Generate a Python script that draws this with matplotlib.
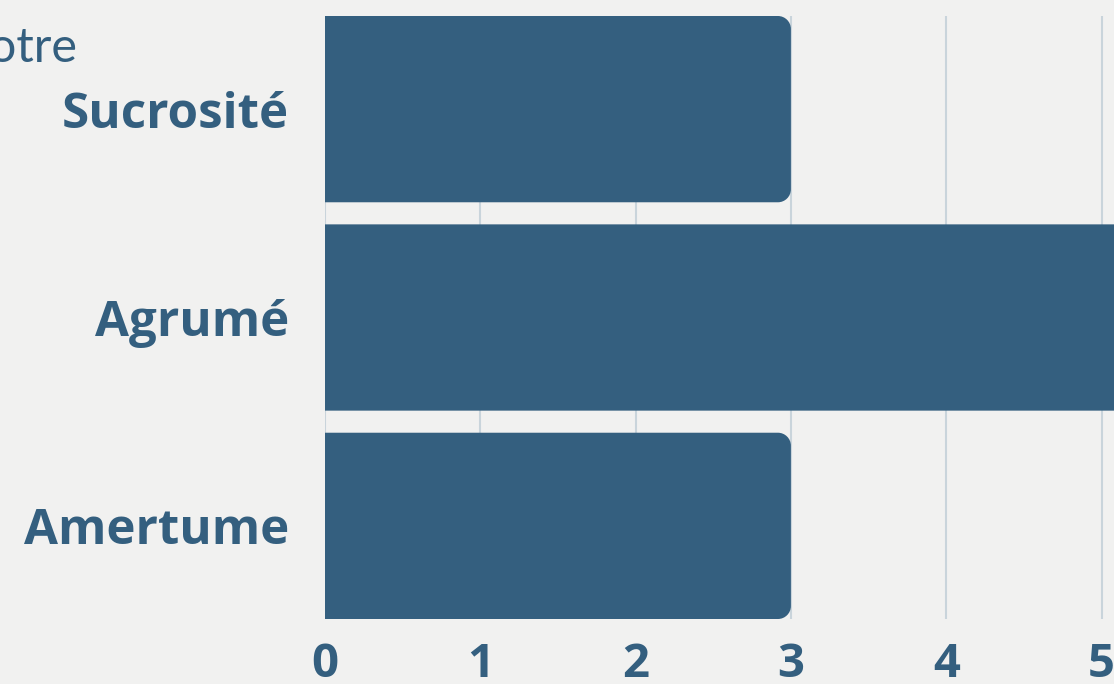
import matplotlib.pyplot as plt
from matplotlib.path import Path
from matplotlib.patches import PathPatch

categories = ['Sucrosité', 'Agrumé', 'Amertume']
values = [3, 6, 3]
ticks = [0, 1, 2, 3, 4, 5]
title = 'Votre'

bar_color = '#345f7f'
bg = '#f1f1f0'
grid_color = '#c9d4db'

plt.rcParams['font.family'] = ['Open Sans', 'DejaVu Sans']

fig = plt.figure(figsize=(11.14, 6.84), dpi=100, facecolor=bg)
ax = fig.add_axes([325 / 1114, 65 / 684, 6 * 155.3 / 1114, 603 / 684])
ax.set_facecolor(bg)

bars = ax.barh(categories, values, height=0.894, color=bar_color, zorder=2)
ax.set_xlim(0, 6)
ax.set_ylim(2.447, -0.447)


def rounded_right(x, y, w, h, rx, ry):
    # rectangle with the two right corners rounded
    k = 0.5523
    verts = [
        (x, y), (x + w - rx, y),
        (x + w - rx + rx * k, y), (x + w, y + ry - ry * k), (x + w, y + ry),
        (x + w, y + h - ry),
        (x + w, y + h - ry + ry * k), (x + w - rx + rx * k, y + h), (x + w - rx, y + h),
        (x, y + h), (x, y),
    ]
    codes = [Path.MOVETO, Path.LINETO,
             Path.CURVE4, Path.CURVE4, Path.CURVE4,
             Path.LINETO,
             Path.CURVE4, Path.CURVE4, Path.CURVE4,
             Path.LINETO, Path.CLOSEPOLY]
    return Path(verts, codes)


rx = 13 / 155.3
ry = 13 / 208
for b in bars:
    p = rounded_right(b.get_x(), b.get_y(), b.get_width(), b.get_height(), rx, ry)
    ax.add_patch(PathPatch(p, facecolor=bar_color, edgecolor='none', zorder=2))
    b.remove()

ax.set_xticks(ticks)
ax.xaxis.grid(True, color=grid_color, linewidth=1.5, zorder=0)
ax.set_axisbelow(True)
for s in ax.spines.values():
    s.set_visible(False)

ax.tick_params(axis='both', length=0)
ax.tick_params(axis='x', pad=15.5, labelsize=34, labelcolor=bar_color)
ax.tick_params(axis='y', pad=26, labelsize=35.5, labelcolor=bar_color)
for lab in ax.get_xticklabels() + ax.get_yticklabels():
    lab.set_fontweight('bold')

fig.text(78 / 1114, (684 - 62) / 684, title, ha='right', va='baseline',
         fontsize=35, fontweight='normal', color=bar_color, family=['Lato', 'DejaVu Sans'])

fig.savefig('out.png', dpi=100, facecolor=bg)
